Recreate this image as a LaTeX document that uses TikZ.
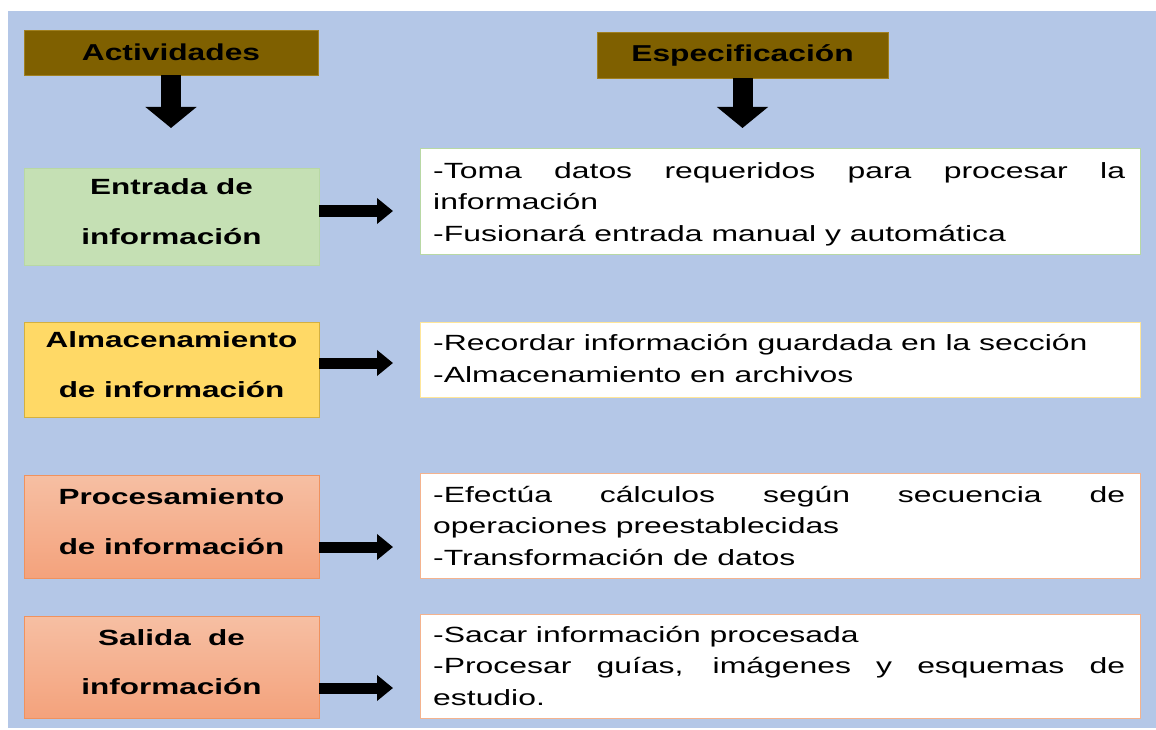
\documentclass[tikz,border=0pt]{standalone}
\usepackage{fontspec}
\setmainfont{Liberation Sans}
\usepackage{graphicx}
\usetikzlibrary{arrows.meta}
\definecolor{bgblue}{HTML}{B4C7E7}
\definecolor{hdr}{HTML}{7F6000}
\definecolor{hdrline}{HTML}{A08020}
\definecolor{green1}{HTML}{C5E0B4}
\definecolor{greenline}{HTML}{B8D8A4}
\definecolor{gold1}{HTML}{FFD966}
\definecolor{goldline}{HTML}{D4B040}
\definecolor{salmtop}{HTML}{F6BFA3}
\definecolor{salmbot}{HTML}{F4A27C}
\definecolor{salmline}{HTML}{F0925E}
\definecolor{yelline}{HTML}{FFE699}
\newcommand{\hx}[1]{\scalebox{1.38}[1]{#1}}
\newcommand{\bx}[1]{\scalebox{1.43}[1]{#1}}
\newcommand{\sx}[1]{\scalebox{1.45}[1]{#1}}
\newcommand{\jl}[1]{\sx{\makebox[477.2pt][s]{#1}}}
\begin{document}
\begin{tikzpicture}[x=1pt,y=-1pt,
  hdrbox/.style={draw=hdrline, line width=0.8pt, fill=hdr, inner sep=0pt, outer sep=0pt,
    font=\fontsize{23}{26}\selectfont\bfseries, text=black},
  actbox/.style={inner sep=0pt, outer sep=0pt, minimum width=295pt, align=center,
    font=\fontsize{22}{49.5}\selectfont\bfseries, text=black, text depth=10pt, line width=0.8pt},
  specbox/.style={fill=white, line width=1pt, inner sep=0pt, outer sep=0pt, minimum width=720pt},
  spectext/.style={font=\fontsize{22}{31.3}\selectfont, align=left, inner sep=0pt, anchor=base west, text=black},
  rarrow/.style={line width=11pt, -{Triangle[length=16pt,width=25pt]}},
  darrow/.style={line width=20pt, -{Triangle[length=21pt,width=50pt]}}
]
\useasboundingbox (0,0) rectangle (1156,730);
\fill[white] (0,0) rectangle (1156,730);
\fill[bgblue] (8,11) rectangle (1156,728);

% headers
\node[hdrbox, minimum width=294pt, minimum height=45pt] (act) at (171,52.5) {\hx{Actividades}};
\node[hdrbox, minimum width=291pt, minimum height=46pt] (esp) at (742.5,55) {\hx{Especificación}};

% activity boxes
\node[actbox, fill=green1, draw=greenline, minimum height=97pt] (entrada) at (171.5,216.5)
  {\bx{Entrada de}\\\bx{información}};
\node[actbox, fill=gold1, draw=goldline, minimum height=95pt] (alma) at (171.5,369.5)
  {\bx{Almacenamiento}\\\bx{de información}};
\node[actbox, top color=salmtop, bottom color=salmbot, draw=salmline, minimum height=103pt] (proc) at (171.5,526.5)
  {\bx{Procesamiento}\\\bx{de información}};
\node[actbox, top color=salmtop, bottom color=salmbot, draw=salmline, minimum height=102pt] (sal) at (171.5,667)
  {\bx{Salida\ \ de}\\\bx{información}};

% specification boxes
\node[specbox, draw=greenline, minimum height=105pt] (spec1) at (780,201.5) {};
\node[specbox, draw=yelline, minimum height=75pt] (spec2) at (780,359.5) {};
\node[specbox, draw=salmline!70, minimum height=105pt] (spec3) at (780,525.5) {};
\node[specbox, draw=salmline!70, minimum height=104pt] (spec4) at (780,666) {};

% texts (anchor = baseline of last line)
\node[spectext] (t1) at (433,241) {\jl{-Toma datos requeridos para procesar la}\\\sx{información}\\\sx{-Fusionará entrada manual y automática}};
\node[spectext] (t2) at (433,382) {\sx{-Recordar información guardada en la sección}\\\sx{-Almacenamiento en archivos}};
\node[spectext] (t3) at (433,565) {\jl{-Efectúa cálculos según secuencia de}\\\sx{operaciones preestablecidas}\\\sx{-Transformación de datos}};
\node[spectext] (t4) at (433,705) {\sx{-Sacar información procesada}\\\jl{-Procesar guías, imágenes y esquemas de}\\\sx{estudio.}};

% arrows
\draw[darrow, shorten >=40pt] (act.south) -- (act.south |- entrada.north);
\draw[darrow, shorten >=21pt] (esp.south) -- (esp.south |- spec1.north);
\draw[rarrow, shorten >=27pt] (entrada.east |- 0,211) -- (spec1.west |- 0,211);
\draw[rarrow, shorten >=27pt] (alma.east |- 0,363) -- (spec2.west |- 0,363);
\draw[rarrow, shorten >=27pt] (proc.east |- 0,547) -- (spec3.west |- 0,547);
\draw[rarrow, shorten >=27pt] (sal.east |- 0,688) -- (spec4.west |- 0,688);
\end{tikzpicture}
\end{document}
